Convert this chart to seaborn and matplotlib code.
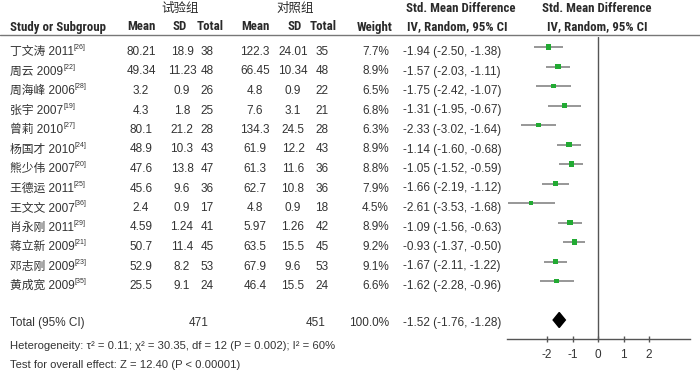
import matplotlib
matplotlib.use('Agg')
import matplotlib.pyplot as plt
from matplotlib import font_manager as fm
import seaborn as sns
import pandas as pd

# study data
studies = ['丁文涛 2011', '周云 2009', '周海峰 2006', '张宇 2007', '曾莉 2010', '杨国才 2010',
           '熊少伟 2007', '王德运 2011', '王文文 2007', '肖永刚 2011', '蒋立新 2009',
           '邓志刚 2009', '黄成宽 2009']
refs = ['[26]', '[22]', '[28]', '[19]', '[27]', '[24]', '[20]', '[25]', '[36]', '[29]',
        '[21]', '[23]', '[35]']
exp_mean = ['80.21', '49.34', '3.2', '4.3', '80.1', '48.9', '47.6', '45.6', '2.4', '4.59',
            '50.7', '52.9', '25.5']
exp_sd = ['18.9', '11.23', '0.9', '1.8', '21.2', '10.3', '13.8', '9.6', '0.9', '1.24',
          '11.4', '8.2', '9.1']
exp_n = [38, 48, 26, 25, 28, 43, 47, 36, 17, 41, 45, 53, 24]
ctl_mean = ['122.3', '66.45', '4.8', '7.6', '134.3', '61.9', '61.3', '62.7', '4.8', '5.97',
            '63.5', '67.9', '46.4']
ctl_sd = ['24.01', '10.34', '0.9', '3.1', '24.5', '12.2', '11.6', '10.8', '0.9', '1.26',
          '15.5', '9.6', '15.5']
ctl_n = [35, 48, 22, 21, 28, 43, 36, 36, 18, 42, 45, 53, 24]
weight = [7.7, 8.9, 6.5, 6.8, 6.3, 8.9, 8.8, 7.9, 4.5, 8.9, 9.2, 9.1, 6.6]
smd = [-1.94, -1.57, -1.75, -1.31, -2.33, -1.14, -1.05, -1.66, -2.61, -1.09, -0.93, -1.67, -1.62]
ci_lo = [-2.50, -2.03, -2.42, -1.95, -3.02, -1.60, -1.52, -2.19, -3.53, -1.56, -1.37, -2.11, -2.28]
ci_hi = [-1.38, -1.11, -1.07, -0.67, -1.64, -0.68, -0.59, -1.12, -1.68, -0.63, -0.50, -1.22, -0.96]

total_exp = 471
total_ctl = 451
pooled = [-1.52, -1.76, -1.28]
x_ticks = [-2, -1, 0, 1, 2]


def has_font(name):
    try:
        fm.findfont(fm.FontProperties(family=name), fallback_to_default=False)
        return True
    except Exception:
        return False


sns.set_theme(style='white')
head_font, HFS = 'Liberation Sans', 8
for cand, size in [('Liberation Sans Narrow', 9), ('Roboto Condensed', 9.3), ('Roboto', 8.3)]:
    if has_font(cand):
        head_font, HFS = cand, size
        break
fam = ['Liberation Sans', 'Noto Sans CJK SC', 'DejaVu Sans']
plt.rcParams['font.family'] = fam

txt_c = '#333333'
FS = 8.5

fig = plt.figure(figsize=(7, 3.71), dpi=100)
ax = fig.add_axes([0, 0, 1, 1])
ax.set_xlim(0, 700)
ax.set_ylim(371, 0)
ax.axis('off')

# headers
hk = dict(fontsize=HFS, fontweight='bold', family=[head_font, 'Noto Sans CJK SC'],
          color='#2a2a2a', va='center')
ck = dict(fontsize=9, family=['Noto Sans CJK SC'], fontweight='medium',
          color='#2a2a2a', va='center')
ax.text(180, 8, '试验组', ha='center', **ck)
ax.text(295, 8, '对照组', ha='center', **ck)
ax.text(461, 8, 'Std. Mean Difference', ha='center', **hk)
ax.text(597, 8, 'Std. Mean Difference', ha='center', **hk)
y_h = 27
ax.text(10, y_h, 'Study or Subgroup', ha='left', **hk)
ax.text(141, y_h, 'Mean', ha='center', **hk)
ax.text(180, y_h, 'SD', ha='center', **hk)
ax.text(210, y_h, 'Total', ha='center', **hk)
ax.text(255, y_h, 'Mean', ha='center', **hk)
ax.text(295, y_h, 'SD', ha='center', **hk)
ax.text(323, y_h, 'Total', ha='center', **hk)
ax.text(375, y_h, 'Weight', ha='center', **hk)
ax.text(457, y_h, 'IV, Random, 95% CI', ha='center', **hk)
ax.text(597, y_h, 'IV, Random, 95% CI', ha='center', **hk)
ax.plot([0, 700], [35, 35], color='#777777', lw=1)

# table rows
tk = dict(fontsize=FS, color=txt_c, va='center')
for i in range(len(studies)):
    y = 52 + 19.5 * i
    t = ax.text(10, y, studies[i], ha='left', **tk)
    ax.annotate(refs[i], xy=(1, 0.85), xycoords=t, fontsize=5, color=txt_c,
                ha='left', va='center')
    ax.text(141, y, exp_mean[i], ha='center', **tk)
    ax.text(182, y, exp_sd[i], ha='center', **tk)
    ax.text(207, y, str(exp_n[i]), ha='center', **tk)
    ax.text(255, y, ctl_mean[i], ha='center', **tk)
    ax.text(293, y, ctl_sd[i], ha='center', **tk)
    ax.text(322, y, str(ctl_n[i]), ha='center', **tk)
    ax.text(389, y, f'{weight[i]:.1f}%', ha='right', **tk)
    ax.text(403, y, f'{smd[i]:.2f} ({ci_lo[i]:.2f}, {ci_hi[i]:.2f})', ha='left', **tk)

y_t = 323
ax.text(10, y_t, 'Total (95% CI)', ha='left', **tk)
ax.text(199, y_t, str(total_exp), ha='center', **tk)
ax.text(316, y_t, str(total_ctl), ha='center', **tk)
ax.text(389, y_t, '100.0%', ha='right', **tk)
ax.text(403, y_t, f'{pooled[0]:.2f} ({pooled[1]:.2f}, {pooled[2]:.2f})', ha='left', **tk)
bk = dict(tk, fontsize=8.1)
ax.text(10, 346, 'Heterogeneity: τ² = 0.11; χ² = 30.35, df = 12 (P = 0.002); I² = 60%',
        ha='left', **bk)
ax.text(10, 365, 'Test for overall effect: Z = 12.40 (P < 0.00001)', ha='left', **bk)

# forest panel
px_top, px_bot, px_left, px_right = 37, 339, 507, 690
x0_px, unit_px, row0_px, row_px = 598, 25.5, 47, 19.5
axf = fig.add_axes([px_left / 700, (371 - px_bot) / 371,
                    (px_right - px_left) / 700, (px_bot - px_top) / 371])
axf.set_xlim((px_left - x0_px) / unit_px, (px_right - x0_px) / unit_px)
axf.set_ylim((px_bot - row0_px) / row_px, (px_top - row0_px) / row_px)
axf.patch.set_alpha(0)

df = pd.DataFrame({'row': range(len(studies)), 'smd': smd, 'lo': ci_lo, 'hi': ci_hi,
                   'weight': weight})
axf.hlines(df['row'], df['lo'], df['hi'], color='#858585', lw=1.2, zorder=1)
sns.scatterplot(data=df, x='smd', y='row', size='weight', sizes=(8, 16), marker='s',
                color='#22aa33', edgecolor='none', legend=False, ax=axf, zorder=2)

r_tot = (320 - row0_px) / row_px
h = 7.5 / row_px
axf.fill([pooled[1], pooled[0], pooled[2], pooled[0]],
         [r_tot, r_tot - h, r_tot, r_tot + h], color='black', zorder=3)

axf.axvline(0, color='#555555', lw=1, zorder=0)
for s in ['top', 'right', 'left']:
    axf.spines[s].set_visible(False)
axf.spines['bottom'].set_color('#555555')
axf.spines['bottom'].set_linewidth(1)
axf.set_xticks(x_ticks)
axf.set_xticklabels([str(v) for v in x_ticks])
axf.set_yticks([])
axf.set_xlabel('')
axf.set_ylabel('')
axf.tick_params(axis='x', direction='inout', length=5, width=1, color='#555555',
                pad=5, labelsize=FS, labelcolor=txt_c, bottom=True)

fig.savefig('out.png', dpi=100)
